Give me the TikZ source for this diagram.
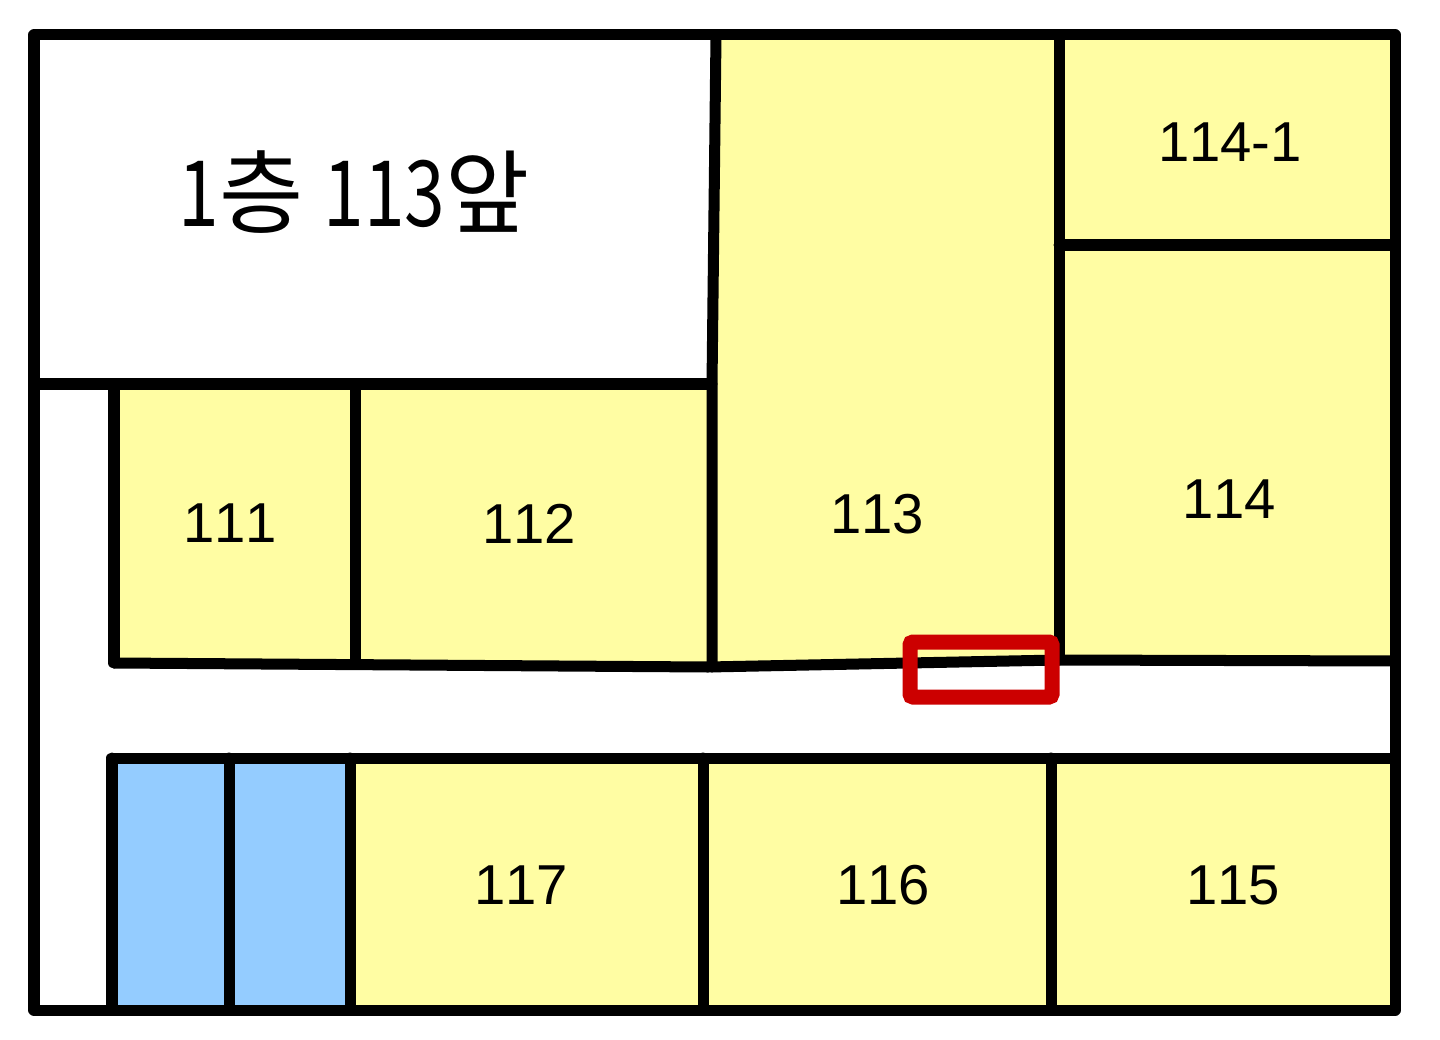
\documentclass[tikz,border=0pt]{standalone}
\usepackage{fontspec}
\setmainfont[Kerning=Off]{Liberation Sans}
\newfontfamily\krfont{Noto Sans CJK KR}
\definecolor{roomyellow}{RGB}{255, 253, 163}
\definecolor{stairblue}{RGB}{148, 204, 255}
\definecolor{markred}{RGB}{204, 0, 0}
\newcommand{\slimdigits}[1]{\scalebox{0.8}[1.0]{#1}}
\tikzset{
  wall/.style={line width=0.11cm, line cap=round, line join=round},
  roomlabel/.style={font=\fontsize{16}{16}\selectfont, inner sep=0pt}
}
\begin{document}
\begin{tikzpicture}[x=0.01cm, y=-0.01cm]
  \useasboundingbox (0,0) rectangle (1440,1040);
  \fill[white] (0,0) rectangle (1440,1040);

  % ---------- rooms ----------
  \fill[roomyellow] (715,35) -- (1395,35) -- (1395,660) -- (1060,660) -- (710,667) -- (112,663) -- (112,384) -- (712,384) -- cycle;
  \fill[roomyellow] (350,760) rectangle (1395,1010);
  \fill[stairblue] (112,760) rectangle (350,1010);

  % ---------- walls ----------
  \draw[wall] (34,35) rectangle (1395,1010);
  \draw[wall] (34,384) -- (712,384);
  \draw[wall] (716,35) -- (712,384) -- (712,667);
  \draw[wall] (1059,35) -- (1059,660);
  \draw[wall] (1059,245) -- (1395,245);
  \draw[wall] (114,384) -- (114,663);
  \draw[wall] (355,384) -- (355,663);
  \draw[wall] (114,663) -- (708,667) -- (1059,660) -- (1395,661);
  \draw[wall] (112,758) -- (1395,758);
  \draw[wall] (112,758) -- (112,1010);
  \draw[wall] (229,758) -- (229,1010);
  \draw[wall] (350,758) -- (350,1010);
  \draw[wall] (703,758) -- (703,1010);
  \draw[wall] (1051,758) -- (1051,1010);

  % ---------- marker ----------
  \draw[markred, line width=0.15cm, rounded corners=0.03cm] (910,642) rectangle (1052,697);

  % ---------- labels ----------
  \node[font=\krfont\fontsize{26}{26}\selectfont, inner sep=0pt] (title) at (354,192) {\slimdigits{1}층 \slimdigits{113}앞};
  \node[roomlabel] (r111) at (230,523) {111};
  \node[roomlabel] (r112) at (529,524) {112};
  \node[roomlabel] (r113) at (877,514) {113};
  \node[roomlabel] (r114) at (1229,499) {114};
  \node[roomlabel] (r1141) at (1230,142) {114-1};
  \node[roomlabel] (r115) at (1233,885) {115};
  \node[roomlabel] (r116) at (883,885) {116};
  \node[roomlabel] (r117) at (521,885) {117};
\end{tikzpicture}
\end{document}
